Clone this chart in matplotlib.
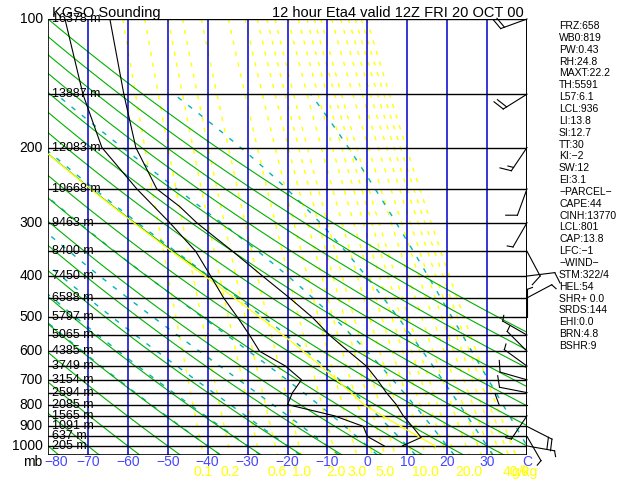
import numpy as np
import matplotlib
matplotlib.use("Agg")
import matplotlib.pyplot as plt
from matplotlib.transforms import blended_transform_factory, ScaledTranslation

plt.rcParams['font.family'] = ['Liberation Sans', 'DejaVu Sans']
plt.rcParams['lines.scale_dashes'] = False

p_temp = [100, 150, 200, 250, 275, 300, 350, 400, 450, 500, 550, 600, 650,
          700, 750, 800, 850, 900, 955, 1000]
temp = [-64.5, -61, -58, -52.75, -47, -42.75, -33.75, -26.25, -19.5, -13.75,
        -9.5, -4.75, -0.25, 2.5, 4.75, 7.25, 9, 11.25, 13.5, 8.75]
p_dew = [100, 150, 200, 250, 300, 350, 400, 450, 500, 550, 600, 650, 700,
         750, 800, 850, 900, 950, 1000]
dewp = [-75.75, -71.25, -66.5, -57.75, -49.5, -43, -39.25, -36, -32.5, -29.5,
        -27, -20.5, -16.5, -18.75, -20, -8.25, -1, 0, 4.25]

niveles = [100, 150, 200, 250, 300, 350, 400, 450, 500, 550, 600, 650, 700,
           750, 800, 850, 900, 950, 1000]
alturas = ['16378', '13887', '12083', '10668', '9463', '8400', '7450', '6588',
           '5797', '5065', '4385', '3749', '3154', '2594', '2085', '1565',
           '1091', '637', '205']
p_etiq = [100, 200, 300, 400, 500, 600, 700, 800, 900, 1000]

# viento: direccion (grados) y velocidad (nudos) en cada nivel
dir_viento = [250, 238, 214, 200, 210, 152, 83, 62, 0, 300, 315, 306, 286,
              281, 270, 214, 117, 150, 100]
vel_viento = [20, 20, 15, 10, 5, 10, 10, 5, 5, 5, 5, 5, 10,
              10, 10, 5, 20, 5, 5]

isotermas = [-70, -60, -50, -40, -30, -20, -10, 0, 10, 20, 30]
t_etiq = ['\u221280', '\u221270', '\u221260', '\u221250', '\u221240', '\u221230',
          '\u221220', '\u221210', '0', '10', '20', '30', 'C']
t_pos = [-78, -70, -60, -50, -40, -30, -20, -10, 0, 10, 20, 30, 40]
theta_seca = list(range(-80, 110, 10))
theta_w = list(range(-40, 50, 10))
mezcla = [0.1, 0.2, 0.4, 0.6, 1, 2, 3, 4, 5, 6, 8, 10, 12, 14, 16, 20, 24,
          28, 32, 36, 40]
mezcla_etiq = [0.1, 0.2, 0.6, 1.0, 2.0, 3.0, 5.0, 10.0, 20.0, 40.0]

t_parcela = 17.0
p_lcl = 801

indices = ['FRZ:658', 'WB0:819', 'PW:0.43', 'RH:24.8', 'MAXT:22.2', 'TH:5591',
           'L57:6.1', 'LCL:936', 'LI:13.8', 'SI:12.7', 'TT:30', 'KI:\u22122',
           'SW:12', 'EI:3.1', '\u2212PARCEL\u2212', 'CAPE:44', 'CINH:13770',
           'LCL:801', 'CAP:13.8', 'LFC:\u22121', '\u2212WIND\u2212',
           'STM:322/4', 'HEL:54', 'SHR+ 0.0', 'SRDS:144', 'EHI:0.0',
           'BRN:4.8', 'BSHR:9']


def es(tc):
    return 6.112 * np.exp(17.67 * tc / (tc + 243.5))


def td_mezcla(w, p):
    e = w * p / (622.0 + w)
    l = np.log(e / 6.112)
    return 243.5 * l / (17.67 - l)


def dtdp(tk, p):
    e = es(tk - 273.15)
    rs = 0.622 * e / (p - e)
    lv = 2.501e6
    return (287.04 * tk + lv * rs) / (p * (1005.7 + lv ** 2 * rs * 0.622 / (287.04 * tk ** 2)))


def humeda(tk, p0, p1, n=300):
    ps = np.linspace(p0, p1, n)
    ts = [tk]
    for i in range(1, n):
        dp = ps[i] - ps[i - 1]
        t = ts[-1]
        k1 = dtdp(t, ps[i - 1])
        k2 = dtdp(t + k1 * dp / 2, ps[i - 1] + dp / 2)
        ts.append(t + k2 * dp)
    return ps, np.array(ts) - 273.15


fig = plt.figure(figsize=(6.4, 4.8), dpi=100)
ax = fig.add_axes([48 / 640, 1 - 455 / 480, 479 / 640, 436 / 480])
ax.set_yscale('log')
ax.set_xlim(-80, 40)
ax.set_ylim(1050, 100)
ax.axis('off')


def barba(p, d, spd):
    # asta y plumas en pulgadas, ancladas al borde derecho del diagrama
    tr = fig.dpi_scale_trans + ScaledTranslation(40, p, ax.transData)
    a = np.radians(d)
    s = np.array([np.sin(a), np.cos(a)])
    n = np.array([s[1], -s[0]])
    largo, pluma, paso = 0.28, 0.11, 0.04
    trazos = [[np.zeros(2), largo * s]]
    pos = largo
    for i in range(int(spd // 10)):
        trazos.append([pos * s, pos * s + pluma * n + 0.04 * s])
        pos -= paso
    if spd % 10 >= 5:
        trazos.append([pos * s, pos * s + pluma / 2 * n + 0.02 * s])
    for a0, a1 in trazos:
        ax.plot([a0[0], a1[0]], [a0[1], a1[1]], transform=tr, color='black',
                lw=0.8, clip_on=False)


pp = np.logspace(np.log10(100), np.log10(1050), 200)

# razon de mezcla (amarillo punteado)
for w in mezcla:
    ax.plot(td_mezcla(w, pp), pp, color='#ffff00', lw=1.0, dashes=(3, 5))

# adiabaticas humedas (cian)
for tw in theta_w:
    p_a, t_a = humeda(tw + 273.15, 1000, 150)
    p_b, t_b = humeda(tw + 273.15, 1000, 1050, 30)
    ax.plot(np.r_[t_b[::-1], t_a], np.r_[p_b[::-1], p_a], color='#00b4b4',
            lw=1.0, dashes=(3.5, 6))

# adiabaticas secas (verde)
for th in theta_seca:
    ax.plot((th + 273.15) * (pp / 1000) ** 0.286 - 273.15, pp, color='#00b000', lw=0.8)

# isotermas
for t in isotermas:
    ax.axvline(t, color='#0000cc', lw=1.1)

# niveles de presion y marco
for p in niveles:
    ax.axhline(p, color='black', lw=1.0)
ax.axhline(1050, color='black', lw=1.2)
ax.axvline(-80, color='black', lw=1.2)
ax.axvline(40, color='black', lw=1.4)

# trayectoria de la parcela
p_seca = np.linspace(1000, p_lcl, 50)
t_seca = (t_parcela + 273.15) * (p_seca / 1000) ** 0.286
p_hum, t_hum = humeda(t_seca[-1], p_lcl, 100)
ax.plot(np.r_[t_seca - 273.15, t_hum], np.r_[p_seca, p_hum], color='#ffff00', lw=0.9)

# perfiles de temperatura y punto de rocio
ax.plot(temp, p_temp, color='black', lw=0.8)
ax.plot(dewp, p_dew, color='black', lw=0.8)

# barbas de viento
for p, d, v in zip(niveles, dir_viento, vel_viento):
    barba(p, d, v)

# textos
fx = blended_transform_factory(fig.transFigure, ax.transData)
tx = blended_transform_factory(ax.transData, fig.transFigure)
for p in p_etiq:
    fig.text(43 / 640, p, str(p), transform=fx, ha='right', va='center', fontsize=10)
for p, h in zip(niveles, alturas):
    fig.text(52 / 640, p, h + ' m', transform=fx, ha='left', va='center', fontsize=9)
fig.text(42 / 640, 1 - 462 / 480, 'mb', ha='right', va='center', fontsize=10)
for t, s in zip(t_pos, t_etiq):
    ax.text(t, 1 - 462 / 480, s, transform=tx, ha='center', va='center',
            fontsize=10, color='#4646ff')
for w in mezcla_etiq:
    ax.text(td_mezcla(w, 1050), 1 - 472 / 480, '%.1f' % w, transform=tx,
            ha='center', va='center', fontsize=10, color='#ffff00')
fig.text(511 / 640, 1 - 472 / 480, 'g/kg', ha='left', va='center', fontsize=10,
         color='#ffff00')

fig.text(52 / 640, 1 - 17 / 480, 'KGSO Sounding', ha='left', va='baseline', fontsize=10.5)
fig.text(524 / 640, 1 - 17 / 480, '12 hour Eta4 valid 12Z FRI 20 OCT 00',
         ha='right', va='baseline', fontsize=10.5)

for i, s in enumerate(indices):
    fig.text(559 / 640, 1 - (26 + i * 11.85) / 480, s, ha='left', va='center',
             fontsize=7.5)

fig.savefig('out.png', dpi=100)
